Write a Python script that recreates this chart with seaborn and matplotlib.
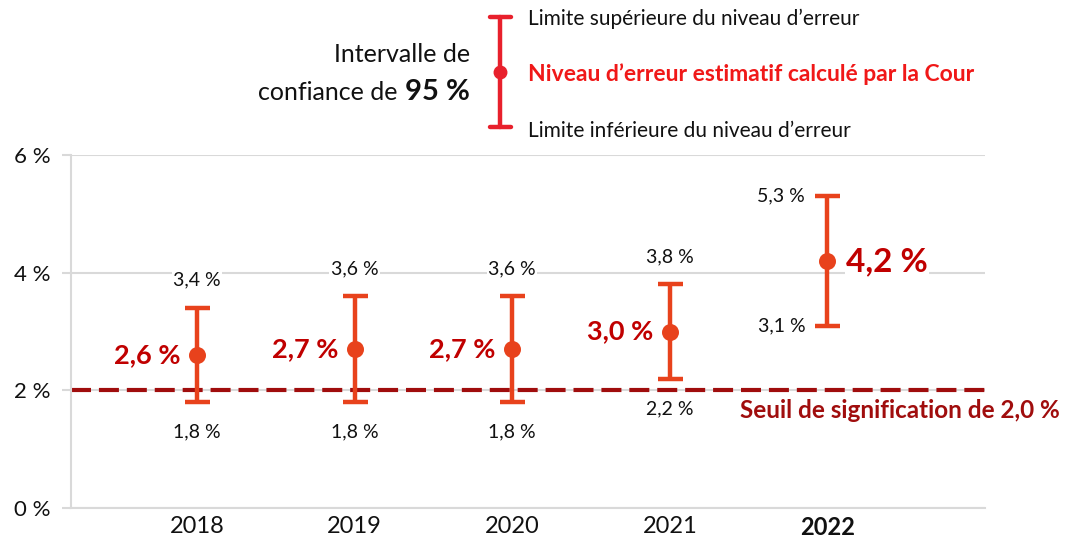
import numpy as np
import pandas as pd
import seaborn as sns
import matplotlib.pyplot as plt
from matplotlib.lines import Line2D

# données (en %)
annees = ["2018", "2019", "2020", "2021", "2022"]
estimation = [2.6, 2.7, 2.7, 3.0, 4.2]
limite_inf = [1.8, 1.8, 1.8, 2.2, 3.1]
limite_sup = [3.4, 3.6, 3.6, 3.8, 5.3]
seuil = 2.0
graduations = [0, 2, 4, 6]


def fr(v):
    return f"{v:.1f}".replace(".", ",") + " %"


df = pd.DataFrame({
    "pos": np.arange(len(annees)),
    "annee": annees,
    "estimation": estimation,
    "inf": limite_inf,
    "sup": limite_sup,
})

sns.set_theme(style="white")
plt.rcParams["font.family"] = ["Lato", "DejaVu Sans"]

orange = "#e8421c"
rouge = "#c00000"
bordeaux = "#a00d0d"
gris = "#d9d9d9"
noir = "#111111"

fig = plt.figure(figsize=(10.65, 5.38), dpi=100)
ax = fig.add_axes([71 / 1065, 30 / 538, 914 / 1065, 353 / 538])

# seuil de signification
ax.axhline(seuil, color=bordeaux, lw=3, dashes=(4.8, 1.9), zorder=2)

# intervalles de confiance
ax.errorbar(df["pos"], df["estimation"],
            yerr=[df["estimation"] - df["inf"], df["sup"] - df["estimation"]],
            fmt="none", ecolor=orange, elinewidth=3.2, capsize=9, capthick=3.2, zorder=3)
sns.scatterplot(data=df, x="pos", y="estimation", color=orange, s=150,
                linewidth=0, zorder=4, ax=ax, legend=False)

# étiquettes
for i, row in df.iterrows():
    boite = dict(facecolor="white", edgecolor="none", pad=1)
    if i < len(df) - 1:
        ax.annotate(fr(row["sup"]), (row["pos"], row["sup"]), xytext=(0, 20),
                    textcoords="offset points", ha="center", va="center",
                    fontsize=14, color=noir, bbox=boite)
        ax.annotate(fr(row["inf"]), (row["pos"], row["inf"]), xytext=(0, -21.5),
                    textcoords="offset points", ha="center", va="center",
                    fontsize=14, color=noir, bbox=boite)
        ax.annotate(fr(row["estimation"]), (row["pos"], row["estimation"]), xytext=(-12, 0),
                    textcoords="offset points", ha="right", va="center",
                    fontsize=19.5, fontweight="bold", color=rouge)
    else:
        ax.annotate(fr(row["sup"]), (row["pos"], row["sup"]), xytext=(-16, 0),
                    textcoords="offset points", ha="right", va="center",
                    fontsize=14, color=noir)
        ax.annotate(fr(row["inf"]), (row["pos"], row["inf"]), xytext=(-16, 0),
                    textcoords="offset points", ha="right", va="center",
                    fontsize=14, color=noir)
        ax.annotate(fr(row["estimation"]), (row["pos"], row["estimation"]), xytext=(13.5, -1),
                    textcoords="offset points", ha="left", va="center",
                    fontsize=24, fontweight="bold", color=rouge, bbox=boite)

ax.annotate("Seuil de signification de 2,0 %", (1, seuil), xycoords=ax.get_yaxis_transform(),
            xytext=(54, -14.5), textcoords="offset points", ha="right", va="center",
            fontsize=17.5, fontweight="bold", color=bordeaux, annotation_clip=False)

# axes
ax.set_xlim(-0.8, 5.0)
ax.set_ylim(0, 6)
ax.set_yticks(graduations)
ax.set_yticklabels([f"{g} %" for g in graduations], fontsize=16, color=noir)
ax.set_xticks(df["pos"])
ax.set_xticklabels(annees, fontsize=17, color=noir)
ax.get_xticklabels()[-1].set_fontweight("bold")
ax.set_xlabel("")
ax.set_ylabel("")
ax.yaxis.grid(True, color=gris, lw=1.5)
ax.set_axisbelow(True)
ax.tick_params(axis="y", left=True, length=6.5, width=1.5, color=gris, pad=8)
ax.tick_params(axis="x", bottom=False, pad=0)
for cote in ["top", "right"]:
    ax.spines[cote].set_visible(False)
for cote in ["left", "bottom"]:
    ax.spines[cote].set_color(gris)
    ax.spines[cote].set_linewidth(1.5)

# légende (coordonnées en pixels)
leg = fig.add_axes([0, 0, 1, 1], zorder=-1)
leg.set_xlim(0, 1065)
leg.set_ylim(538, 0)
leg.axis("off")
rouge_leg = "#e8202c"
leg.add_line(Line2D([500, 500], [17, 127], color=rouge_leg, lw=3.2))
leg.add_line(Line2D([490, 511], [17, 17], color=rouge_leg, lw=3.2))
leg.add_line(Line2D([490, 511], [127, 127], color=rouge_leg, lw=3.2))
leg.plot([500], [72], "o", color=rouge_leg, markersize=9)
leg.text(528, 19, "Limite supérieure du niveau d’erreur", ha="left", va="center",
         fontsize=15, color=noir)
leg.text(528, 74, "Niveau d’erreur estimatif calculé par la Cour", ha="left", va="center",
         fontsize=16.5, fontweight="bold", color="#f01818")
leg.text(528, 131, "Limite inférieure du niveau d’erreur", ha="left", va="center",
         fontsize=15, color=noir)
leg.text(470, 54, "Intervalle de", ha="right", va="center", fontsize=18, color=noir)
leg.text(470, 92, "95 %", ha="right", va="center", fontsize=21, fontweight="bold", color=noir)
leg.text(397, 92, "confiance de", ha="right", va="center", fontsize=18, color=noir)

fig.savefig("out.png", dpi=100)
